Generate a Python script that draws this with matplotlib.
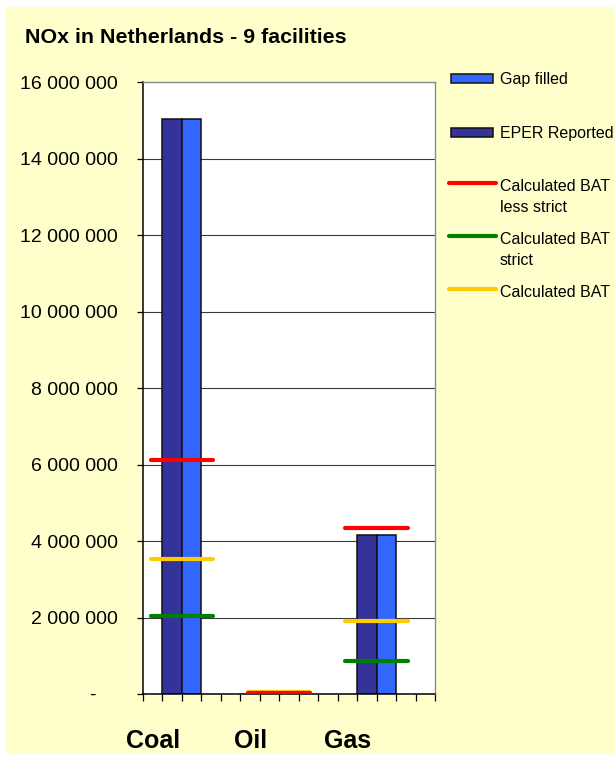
import matplotlib
matplotlib.use("Agg")
import matplotlib.pyplot as plt
from matplotlib.patches import Rectangle
from matplotlib.lines import Line2D

plt.rcParams['font.family'] = ['Liberation Sans', 'DejaVu Sans']

# ---- data ----
categories = ["Coal", "Oil", "Gas"]
eper_reported = [15030000, 0, 4160000]
gap_filled = [15030000, 0, 4160000]
bat_less_strict = [6130000, 20000, 4330000]
bat_strict = [2040000, 10000, 860000]
bat_mid = [3530000, 40000, 1910000]
y_ticks = [0, 2000000, 4000000, 6000000, 8000000, 10000000, 12000000, 14000000, 16000000]

# ---- style ----
W, H, DPI = 615, 758, 100
BG = "#FFFFCC"
C_EPER = "#333399"
C_GAP = "#3366FF"
C_RED = "#FF0000"
C_GREEN = "#008000"
C_YEL = "#FFCC00"
SLOTS = 5  # x-slots per category group

fig = plt.figure(figsize=(W / DPI, H / DPI), dpi=DPI)
fig.patch.set_facecolor("white")


def fx(px):
    return px / W


def fy(py):
    return 1 - py / H


# chart-area background
fig.patches.append(Rectangle((fx(5), fy(753)), fx(610), 746 / H,
                             transform=fig.transFigure, facecolor=BG,
                             edgecolor="none", zorder=-10))

ax = fig.add_axes([fx(143), fy(694), fx(435 - 143), (694 - 82) / H])
ax.set_facecolor("white")
ax.set_xlim(0, SLOTS * len(categories))
ax.set_ylim(0, 16000000)

starts = [SLOTS * i for i in range(len(categories))]
ax.bar([s + 1 for s in starts], eper_reported, width=1, align="edge",
       color=C_EPER, edgecolor="#111111", linewidth=1.1, zorder=2)
ax.bar([s + 2 for s in starts], gap_filled, width=1, align="edge",
       color=C_GAP, edgecolor="#111111", linewidth=1.1, zorder=2)

half = 1.6
for vals, col in ((bat_strict, C_GREEN), (bat_mid, C_YEL), (bat_less_strict, C_RED)):
    ax.hlines(vals, [s + 2 - half for s in starts], [s + 2 + half for s in starts],
              colors=col, linewidth=3, zorder=3, capstyle="round")

# y axis
def fmt(v):
    return "-    " if v == 0 else f"{v:,}".replace(",", " ")

ax.set_yticks(y_ticks, labels=[fmt(v) for v in y_ticks])
ax.tick_params(axis="y", direction="out", length=4.5, width=0.9, pad=13.5,
               labelsize=14, colors="black")
ax.yaxis.grid(True, color="#3a3a3a", linewidth=0.8)
ax.set_axisbelow(True)

# x axis: slot ticks, category labels as minor ticks
ax.set_xticks(range(SLOTS * len(categories) + 1), labels=[])
ax.tick_params(axis="x", which="major", direction="out", length=5, width=0.9)
ax.set_xticks([s + 0.5 for s in starts], labels=categories, minor=True)
ax.tick_params(axis="x", which="minor", length=0, pad=25, labelsize=18)
for lbl in ax.get_xticklabels(minor=True):
    lbl.set_fontweight("bold")

for side in ("left", "bottom"):
    ax.spines[side].set_color("black")
    ax.spines[side].set_linewidth(1.1)
for side in ("top", "right"):
    ax.spines[side].set_color("#8c8c8c")
    ax.spines[side].set_linewidth(1.0)

# title
fig.text(fx(25), fy(43), "NOx in Netherlands - 9 facilities", fontsize=15.4,
         fontweight="bold", ha="left", va="baseline")

# legend
TX = fx(500)
LFS = 11.5
for yc, col in ((78.5, C_GAP), (132.5, C_EPER)):
    fig.patches.append(Rectangle((fx(451), fy(yc + 4.5)), fx(42), 9 / H,
                                 transform=fig.transFigure, facecolor=col,
                                 edgecolor="#111111", linewidth=1.1))
fig.text(TX, fy(84), "Gap filled", fontsize=LFS, va="baseline")
fig.text(TX, fy(138), "EPER Reported", fontsize=LFS, va="baseline")

for yc, col, lines in ((183, C_RED, ["Calculated BAT", "less strict"]),
                       (236, C_GREEN, ["Calculated BAT", "strict"]),
                       (289, C_YEL, ["Calculated BAT"])):
    fig.lines.append(Line2D([fx(449), fx(496)], [fy(yc), fy(yc)],
                            transform=fig.transFigure, color=col,
                            linewidth=3, solid_capstyle="round"))
    for k, t in enumerate(lines):
        fig.text(TX, fy(yc + 8 + 21 * k), t, fontsize=LFS, va="baseline")

fig.savefig("out.png", dpi=DPI)
